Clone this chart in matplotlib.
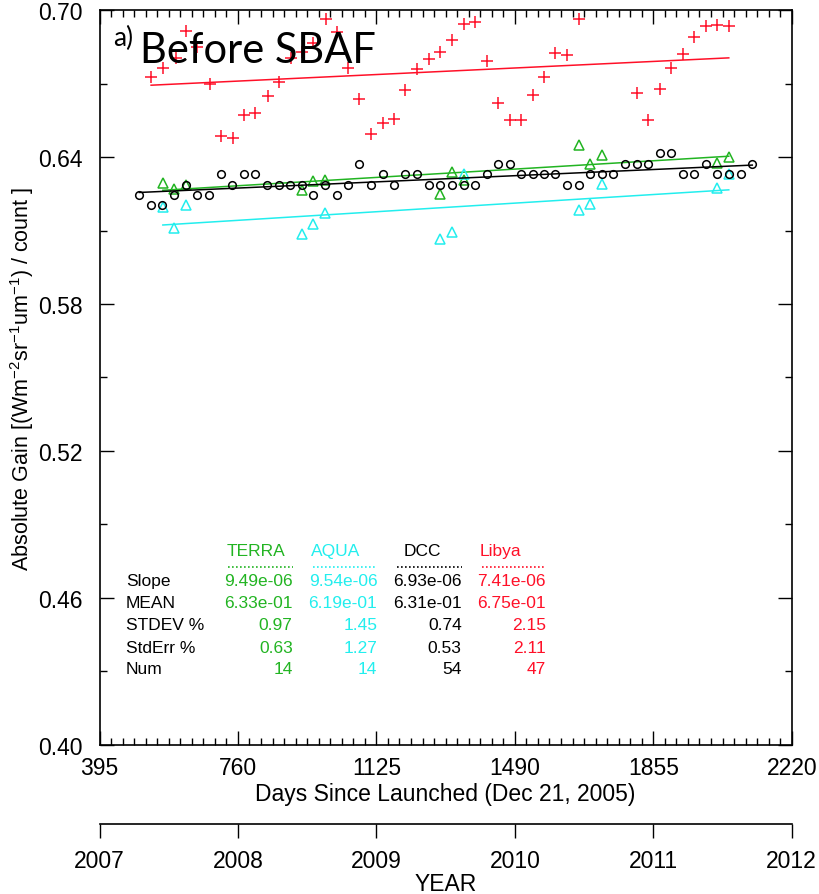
import numpy as np
import matplotlib
matplotlib.use("Agg")
import matplotlib.pyplot as plt

plt.rcParams['font.family'] = ['Liberation Sans', 'DejaVu Sans']
plt.rcParams['mathtext.default'] = 'regular'

# ---- data ----
terra_day = [562, 592, 623, 928, 959, 990, 1293, 1324, 1355, 1658, 1688, 1720, 2023, 2054]
terra_gain = [0.6293, 0.6270, 0.6287, 0.6265, 0.6302, 0.6307, 0.6248, 0.6339, 0.6307,
              0.6450, 0.6370, 0.6408, 0.6376, 0.6399]

aqua_day = [562, 592, 623, 929, 959, 990, 1293, 1324, 1355, 1658, 1688, 1720, 2023, 2054]
aqua_gain = [0.6197, 0.6110, 0.6204, 0.6087, 0.6125, 0.6171, 0.6065, 0.6093, 0.6331,
             0.6184, 0.6208, 0.6291, 0.6272, 0.6329]

dcc_day = [500, 531, 561, 592, 623, 653, 684, 715, 745, 776, 806, 837, 867,
           898, 928, 958, 990, 1021, 1051, 1080, 1112, 1143, 1172, 1201, 1231, 1263, 1293,
           1324, 1355, 1385, 1416, 1446, 1477, 1507, 1537, 1567, 1597, 1628, 1658, 1688, 1719, 1749,
           1781, 1812, 1842, 1873, 1902, 1933, 1963, 1994, 2023, 2054, 2085, 2116]
dcc_gain = [0.6245, 0.6203, 0.6203, 0.6245, 0.6287, 0.6245, 0.6245, 0.6329, 0.6287, 0.6329, 0.6329, 0.6287, 0.6287,
            0.6287, 0.6287, 0.6245, 0.6287, 0.6245, 0.6287, 0.6371, 0.6287, 0.6329, 0.6287, 0.6329, 0.6329, 0.6287, 0.6287,
            0.6287, 0.6287, 0.6287, 0.6329, 0.6371, 0.6371, 0.6329, 0.6329, 0.6329, 0.6329, 0.6287, 0.6287, 0.6329, 0.6329, 0.6329,
            0.6371, 0.6371, 0.6371, 0.6415, 0.6415, 0.6329, 0.6329, 0.6371, 0.6329, 0.6329, 0.6329, 0.6371]

libya_day = [531, 562, 596, 623, 653, 685, 715, 746, 776, 806, 838, 867,
             899, 929, 959, 991, 1021, 1051, 1080, 1112, 1143, 1172, 1201, 1231, 1263, 1293,
             1324, 1355, 1385, 1416, 1446, 1477, 1507, 1537, 1567, 1597, 1627, 1658,
             1812, 1842, 1873, 1902, 1933, 1963, 1994, 2023, 2054]
libya_gain = [0.6725, 0.6763, 0.6803, 0.6913, 0.6850, 0.6698, 0.6484, 0.6476, 0.6573, 0.6580, 0.6650, 0.6707,
              0.6803, 0.6827, 0.6864, 0.6963, 0.6909, 0.6762, 0.6637, 0.6493, 0.6538, 0.6555, 0.6673, 0.6759, 0.6800, 0.6830,
              0.6878, 0.6944, 0.6950, 0.6791, 0.6619, 0.6552, 0.6552, 0.6653, 0.6727, 0.6823, 0.6815, 0.6962,
              0.6661, 0.6552, 0.6678, 0.6763, 0.6820, 0.6891, 0.6933, 0.6939, 0.6933]

names = ['TERRA', 'AQUA', 'DCC', 'Libya']
slope_txt = ['9.49e-06', '9.54e-06', '6.93e-06', '7.41e-06']
mean_txt = ['6.33e-01', '6.19e-01', '6.31e-01', '6.75e-01']
stdev_txt = ['0.97', '1.45', '0.74', '2.15']
stderr_txt = ['0.63', '1.27', '0.53', '2.11']
num_txt = ['14', '14', '54', '47']

green = '#22b422'
cyan = '#22eeee'
red = '#ff1028'
cols = [green, cyan, 'black', red]

fig = plt.figure(figsize=(8.19, 8.95), dpi=100)
ax = fig.add_axes([0.1215, 0.1665, 0.8452, 0.8212])

series = [(terra_day, terra_gain, '^', green, 7.5),
          (aqua_day, aqua_gain, '^', cyan, 7.5),
          (dcc_day, dcc_gain, 'o', 'black', 5.5),
          (libya_day, libya_gain, '+', red, 8)]

for d, g, m, c, ms in series:
    d = np.array(d, float)
    g = np.array(g)
    ax.plot(d, g, linestyle='none', marker=m, ms=ms, mfc='none', mec=c, mew=1.1)
    p = np.polyfit(d, g, 1)
    xx = np.array([d.min(), d.max()])
    ax.plot(xx, np.polyval(p, xx), color=c, lw=1.1)

ax.set_xlim(395, 2220)
ax.set_ylim(0.40, 0.70)
ax.set_xticks(np.arange(395, 2221, 365))
ax.set_xticks(np.arange(395, 2221, 365 / 12.0), minor=True)
ax.set_yticks(np.arange(0.40, 0.701, 0.06))
ax.set_yticks(np.arange(0.40, 0.701, 0.03), minor=True)
ax.set_yticklabels(['%.2f' % v for v in np.arange(0.40, 0.701, 0.06)])
ax.tick_params(which='both', direction='in', top=True, right=True, labelsize=16.5, width=1.0)
ax.tick_params(which='major', length=10)
ax.tick_params(which='minor', length=5)
ax.tick_params(axis='x', pad=8)
ax.tick_params(axis='y', pad=12)
for s in ax.spines.values():
    s.set_linewidth(1.2)

ax.set_xlabel('Days Since Launched (Dec 21, 2005)', fontsize=16.5, labelpad=2)
ax.set_ylabel('Absolute Gain [(Wm$^{-2}$sr$^{-1}$um$^{-1}$) / count ]', fontsize=15.5, va='center')
ax.yaxis.set_label_coords(-0.112, 0.5)

# year axis below
yr = ax.secondary_xaxis(-0.1075, functions=(lambda d: 2007 + (d - 395) / 365.0,
                                              lambda y: 395 + (y - 2007) * 365.0))
yr.set_xticks(range(2007, 2013))
yr.tick_params(direction='out', length=10, width=1.0, labelsize=16.5, pad=8)
yr.spines['bottom'].set_linewidth(1.2)
yr.set_xlabel('YEAR', fontsize=16.5, labelpad=0)

# title inside plot
ax.text(0.019, 0.952, 'a)', transform=ax.transAxes, fontsize=19, family='Lato', va='baseline')
ax.text(0.058, 0.929, 'Before SBAF', transform=ax.transAxes, fontsize=30, family='Lato', va='baseline')

# stats table
rows = [('Slope', slope_txt), ('MEAN', mean_txt), ('STDEV %', stdev_txt),
        ('StdErr %', stderr_txt), ('Num', num_txt)]
row_y = [0.2235, 0.194, 0.1633, 0.1333, 0.1034]
col_right = [0.279, 0.4013, 0.5233, 0.645]
head_left = [0.183, 0.306, 0.440, 0.549]
dot_left = [0.185, 0.308, 0.430, 0.553]
for name, c, hx, dx, rx in zip(names, cols, head_left, dot_left, col_right):
    ax.text(hx, 0.265, name, color=c, fontsize=12.5, transform=ax.transAxes, va='center')
    ax.plot([dx, rx], [0.2415, 0.2415], transform=ax.transAxes, color=c,
            lw=1.2, linestyle=(0, (1, 1.4)))
for (lab, vals), yy in zip(rows, row_y):
    ax.text(0.038, yy, lab, fontsize=12.5, transform=ax.transAxes, va='center')
    for v, c, rx in zip(vals, cols, col_right):
        ax.text(rx, yy, v, color=c, fontsize=12.5, transform=ax.transAxes, va='center', ha='right')

fig.savefig('out.png', dpi=100)
